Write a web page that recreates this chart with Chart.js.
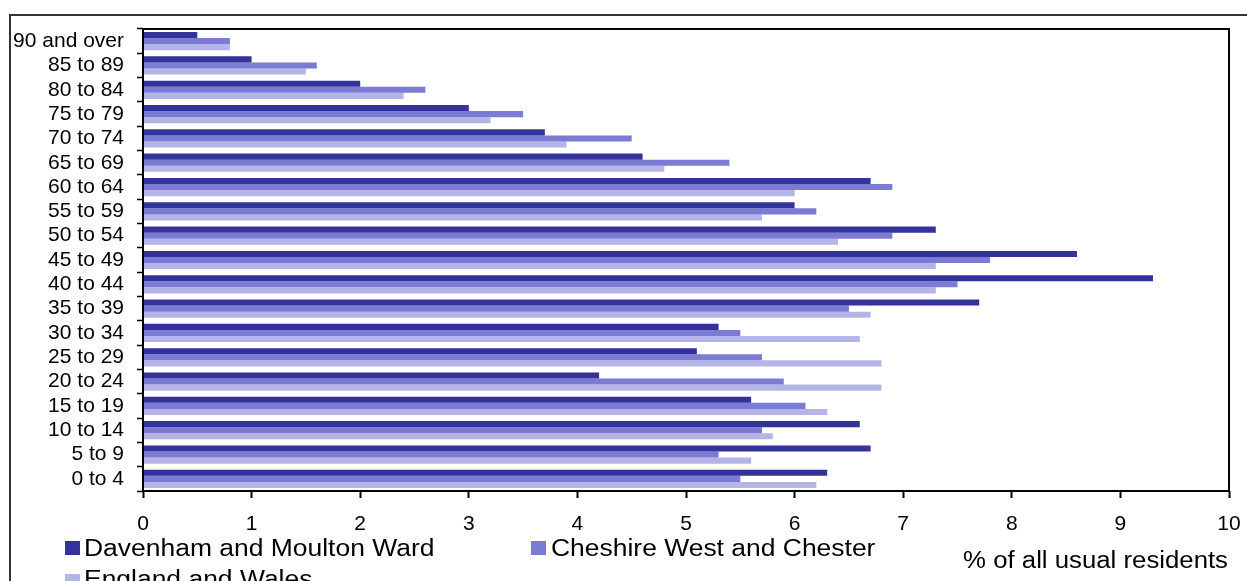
<!DOCTYPE html>
<html>
<head>
<meta charset="utf-8">
<script src="https://cdn.jsdelivr.net/npm/chart.js@4.4.1/dist/chart.umd.min.js"></script>
<style>
  html, body { margin: 0; padding: 0; background: #fff; overflow: hidden; }
  canvas { display: block; }
</style>
</head>
<body>
<canvas id="ageChart" width="1247" height="581"></canvas>
<script>
const AGE_BANDS = [
  "90 and over", "85 to 89", "80 to 84", "75 to 79", "70 to 74", "65 to 69",
  "60 to 64", "55 to 59", "50 to 54", "45 to 49", "40 to 44", "35 to 39",
  "30 to 34", "25 to 29", "20 to 24", "15 to 19", "10 to 14", "5 to 9", "0 to 4"
];
const SERIES_NAMES = ["Davenham and Moulton Ward", "Cheshire West and Chester", "England and Wales"];
const WARD = [0.5, 1.0, 2.0, 3.0, 3.7, 4.6, 6.7, 6.0, 7.3, 8.6, 9.3, 7.7, 5.3, 5.1, 4.2, 5.6, 6.6, 6.7, 6.3];
const CWAC = [0.8, 1.6, 2.6, 3.5, 4.5, 5.4, 6.9, 6.2, 6.9, 7.8, 7.5, 6.5, 5.5, 5.7, 5.9, 6.1, 5.7, 5.3, 5.5];
const ENG_WALES = [0.8, 1.5, 2.4, 3.2, 3.9, 4.8, 6.0, 5.7, 6.4, 7.3, 7.3, 6.7, 6.6, 6.8, 6.8, 6.3, 5.8, 5.6, 6.2];
const X_TICKS = [0, 1, 2, 3, 4, 5, 6, 7, 8, 9, 10];
const X_TITLE = "% of all usual residents";

const COLORS = ["#333399", "#7b7bd4", "#b4b4e6"];
const FONT = "'Liberation Sans', Arial, sans-serif";

// the legend text in the original is a bit stretched sideways
function stretchedText(ctx, text, x, y, sx, align) {
  ctx.save();
  ctx.translate(x, y);
  ctx.scale(sx, 1);
  ctx.textAlign = align;
  ctx.fillText(text, 0, 0);
  ctx.restore();
}

// frame lines + custom legend, drawn like the original export
const frameAndLegend = {
  id: "frameAndLegend",
  afterDraw(chart) {
    const { ctx, chartArea: a } = chart;
    ctx.save();
    ctx.fillStyle = "#333";
    ctx.fillRect(9, 14, 1238, 2);
    ctx.fillRect(9, 14, 2, 567);

    ctx.strokeStyle = "#000";
    ctx.lineWidth = 2;
    ctx.strokeRect(a.left, a.top, a.right - a.left, a.bottom - a.top);

    const spots = [
      { bx: 65, by: 541, tx: 84, ty: 556 },
      { bx: 531, by: 541, tx: 551, ty: 556 },
      { bx: 65, by: 574, tx: 84, ty: 587 }
    ];
    ctx.font = "23px " + FONT;
    ctx.textBaseline = "alphabetic";
    chart.data.datasets.forEach((ds, i) => {
      const s = spots[i];
      ctx.fillStyle = ds.backgroundColor;
      ctx.fillRect(s.bx, s.by, 15, 14);
      ctx.fillStyle = "#000";
      stretchedText(ctx, ds.label, s.tx, s.ty, 1.15, "left");
    });

    stretchedText(ctx, X_TITLE, 1228, 568, 1.12, "right");
    ctx.restore();
  }
};

new Chart(document.getElementById("ageChart"), {
  type: "bar",
  data: {
    labels: AGE_BANDS,
    datasets: [
      { label: SERIES_NAMES[0], data: WARD, backgroundColor: COLORS[0] },
      { label: SERIES_NAMES[1], data: CWAC, backgroundColor: COLORS[1] },
      { label: SERIES_NAMES[2], data: ENG_WALES, backgroundColor: COLORS[2] }
    ]
  },
  options: {
    indexAxis: "y",
    responsive: false,
    animation: false,
    layout: { padding: { top: 29, right: 18, left: 0, bottom: 0 } },
    datasets: { bar: { categoryPercentage: 0.75, barPercentage: 1, borderWidth: 0 } },
    plugins: { legend: { display: false }, tooltip: { enabled: false } },
    scales: {
      x: {
        type: "linear",
        min: 0,
        max: 10,
        afterBuildTicks(scale) { scale.ticks = X_TICKS.map((v) => ({ value: v })); },
        afterFit(scale) {
          scale.height = 90;
          scale.paddingLeft = 0;
          scale.paddingRight = 0;
        },
        border: { display: false },
        grid: { drawOnChartArea: false, drawTicks: true, tickLength: 7, tickWidth: 2, tickColor: "#000" },
        ticks: { color: "#000", padding: 14, font: { family: FONT, size: 21 }, maxRotation: 0 }
      },
      y: {
        afterFit(scale) {
          scale.width = 143;
          scale.paddingTop = 0;
          scale.paddingBottom = 0;
        },
        border: { display: false },
        grid: { drawOnChartArea: false, drawTicks: true, tickLength: 6, tickWidth: 1.5, tickColor: "#000", offset: true },
        ticks: { color: "#000", padding: 13, font: { family: FONT, size: 21 }, autoSkip: false }
      }
    }
  },
  plugins: [frameAndLegend]
});
</script>
</body>
</html>
